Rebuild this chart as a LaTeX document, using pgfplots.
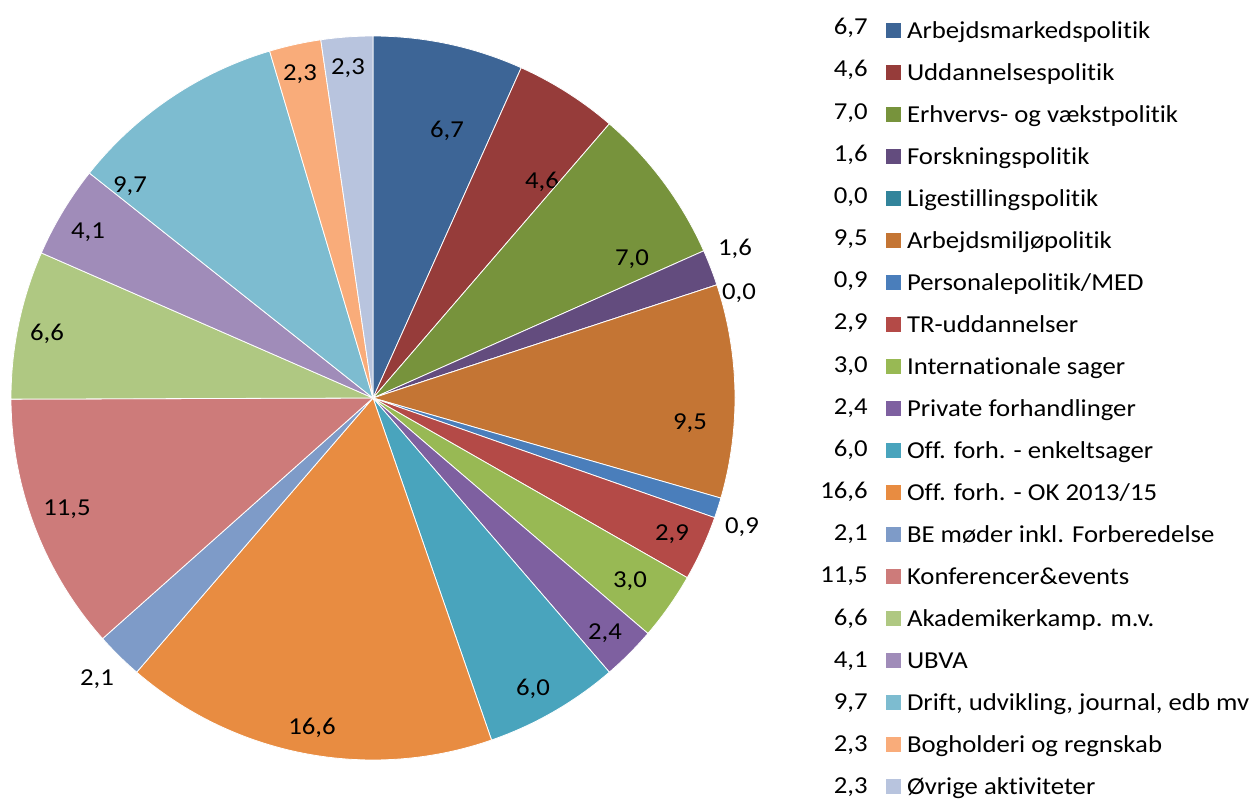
\documentclass[border=0pt]{standalone}
\usepackage{fontspec}
\setmainfont{Carlito}[Ligatures=NoCommon, FakeStretch=1.10]
\usepackage{pgfplots}
\pgfplotsset{compat=1.18}
\definecolor{c1}{RGB}{61,101,150}
\definecolor{c2}{RGB}{150,60,58}
\definecolor{c3}{RGB}{119,147,60}
\definecolor{c4}{RGB}{99,76,126}
\definecolor{c5}{RGB}{50,132,155}
\definecolor{c6}{RGB}{196,117,52}
\definecolor{c7}{RGB}{74,126,187}
\definecolor{c8}{RGB}{180,74,71}
\definecolor{c9}{RGB}{152,185,84}
\definecolor{c10}{RGB}{126,96,160}
\definecolor{c11}{RGB}{73,164,189}
\definecolor{c12}{RGB}{232,140,65}
\definecolor{c13}{RGB}{126,155,200}
\definecolor{c14}{RGB}{205,123,122}
\definecolor{c15}{RGB}{175,200,130}
\definecolor{c16}{RGB}{160,140,185}
\definecolor{c17}{RGB}{125,188,208}
\definecolor{c18}{RGB}{249,172,122}
\definecolor{c19}{RGB}{184,196,222}
\begin{document}%
\fontsize{12.2}{14}\selectfont%
\gdef\cum{0}%
\begin{tikzpicture}
\begin{axis}[
  x=0.5bp, y=0.5bp,
  xmin=-373, xmax=877, ymin=-400, ymax=398,
  hide axis, clip=false,
  legend cell align=left,
  legend style={at={(axis description cs:0.7088,0.97707)}, anchor=north west,
    draw=none, fill=none, inner sep=0pt, outer sep=0pt,
    row sep=7bp, column sep=3bp,
    nodes={inner sep=0pt, text height=10bp, text depth=4bp}},
  legend image code/.code={\fill[#1,draw=none] (0bp,-3bp) rectangle (7.5bp,4.5bp);},
]
\coordinate (bbsw) at (axis cs:-373,-400);
\coordinate (bbne) at (axis cs:877,398);
\foreach \v/\col/\nm/\lx/\ly [count=\i] in {
  6.7/c1/Arbejdsmarkedspolitik/74/268,
  4.6/c2/Uddannelsespolitik/169/217,
  7.0/c3/Erhvervs- og vækstpolitik/259/140,
  1.6/c4/Forskningspolitik/362/150,
  0.0/c5/Ligestillingspolitik/366/106,
  9.5/c6/Arbejdsmiljøpolitik/317/-24,
  0.9/c7/{Personalepolitik/MED}/369/-128,
  2.9/c8/TR-uddannelser/299/-135,
  3.0/c9/Internationale sager/257/-182,
  2.4/c10/Private forhandlinger/232/-234,
  6.0/c11/Off. forh. - enkeltsager/160/-290,
  16.6/c12/{Off. forh. - OK 2013/15}/-61/-329,
  2.1/c13/BE møder inkl. Forberedelse/-276/-280,
  11.5/c14/Konferencer\&events/-306/-110,
  6.6/c15/Akademikerkamp. m.v./-326/65,
  4.1/c16/UBVA/-285/167,
  9.7/c17/{Drift, udvikling, journal, edb mv}/-243/213,
  2.3/c18/Bogholderi og regnskab/-73/325,
  2.3/c19/Øvrige aktiviteter/-25/331%
}{
  \pgfmathsetmacro\a{90-\cum*3.60721}
  \pgfmathsetmacro\b{90-(\cum+max(\v,0.02))*3.60721}
  \pgfmathsetmacro\newcum{\cum+\v}
  \xdef\cum{\newcum}
  \pgfmathsetmacro\vy{363.3-(\i-1)*42.17}
  \pgfmathsetmacro\lyb{\ly-7.5}
  \edef\temp{%
    \noexpand\addplot[fill=\col, draw=white, line width=0.4pt, domain=\b:\a, samples=90, variable=\noexpand\t]
      ({362*cos(\noexpand\t)},{362*sin(\noexpand\t)}) -- (axis cs:0,0) -- cycle;
    \noexpand\addlegendentry{\nm}
    \noexpand\node[anchor=base, inner sep=0pt] at (axis cs:\lx,\lyb) {\noexpand\pgfmathprintnumber[fixed,fixed zerofill,precision=1,use comma,assume math mode=true]{\v}};
    \noexpand\node[anchor=base east, inner sep=0pt] at (axis cs:495,\vy) {\noexpand\pgfmathprintnumber[fixed,fixed zerofill,precision=1,use comma,assume math mode=true]{\v}};
  }\temp
}
\end{axis}
\pgfresetboundingbox
\path (bbsw) rectangle (bbne);
\end{tikzpicture}%
\end{document}
